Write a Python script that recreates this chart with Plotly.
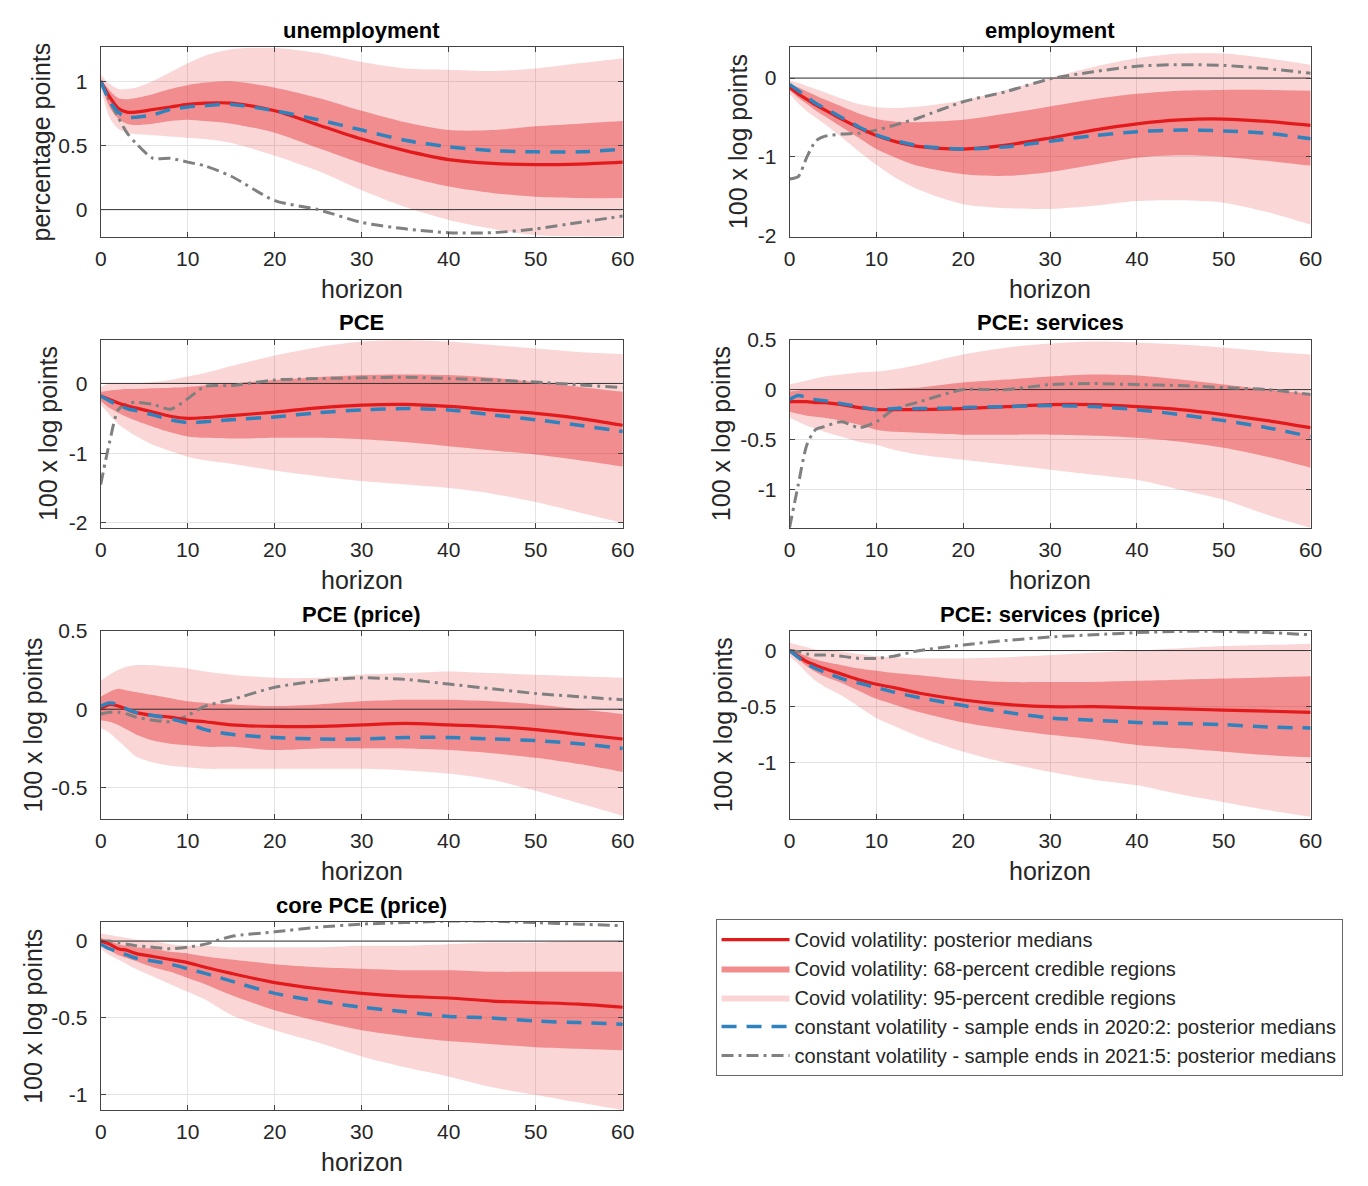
import plotly.graph_objects as go

# ---------------- data ----------------
HORIZON = [0, 1, 2, 3, 4, 6, 8, 10, 12, 15, 20, 25, 30, 35, 40, 45, 50, 55, 60]
X_TICKS = [0, 10, 20, 30, 40, 50, 60]
X_TICK_LABELS = ["0", "10", "20", "30", "40", "50", "60"]

# unemployment
UNEMP_MED = [1.0, 0.88, 0.79, 0.76, 0.76, 0.78, 0.80, 0.82, 0.83, 0.83, 0.77, 0.66, 0.55, 0.46, 0.39, 0.36, 0.35, 0.355, 0.37]
UNEMP_CONST20 = [1.0, 0.85, 0.76, 0.72, 0.72, 0.74, 0.78, 0.80, 0.81, 0.82, 0.77, 0.70, 0.62, 0.54, 0.49, 0.46, 0.45, 0.45, 0.47]
UNEMP_CONST21 = [1.0, 0.85, 0.72, 0.60, 0.52, 0.40, 0.40, 0.37, 0.34, 0.26, 0.07, 0.0, -0.10, -0.15, -0.18, -0.18, -0.15, -0.10, -0.05]
UNEMP_HI68 = [1.02, 0.93, 0.87, 0.86, 0.87, 0.90, 0.94, 0.97, 0.99, 1.0, 0.95, 0.87, 0.77, 0.68, 0.62, 0.62, 0.65, 0.67, 0.69]
UNEMP_LO68 = [0.98, 0.80, 0.71, 0.67, 0.66, 0.67, 0.69, 0.70, 0.69, 0.67, 0.60, 0.48, 0.36, 0.26, 0.18, 0.13, 0.10, 0.09, 0.09]
UNEMP_HI95 = [1.05, 0.98, 0.94, 0.94, 0.95, 1.0, 1.07, 1.14, 1.2, 1.25, 1.26, 1.22, 1.15, 1.1, 1.09, 1.08, 1.1, 1.14, 1.18]
UNEMP_LO95 = [0.95, 0.72, 0.63, 0.60, 0.59, 0.58, 0.57, 0.56, 0.55, 0.52, 0.42, 0.30, 0.15, 0.02, -0.08, -0.15, -0.2, -0.21, -0.21]

# employment
EMP_MED = [-0.12, -0.2, -0.27, -0.34, -0.4, -0.52, -0.63, -0.73, -0.8, -0.87, -0.9, -0.85, -0.76, -0.66, -0.58, -0.53, -0.52, -0.55, -0.6]
EMP_CONST20 = [-0.08, -0.16, -0.24, -0.32, -0.38, -0.5, -0.62, -0.72, -0.79, -0.86, -0.9, -0.87, -0.8, -0.73, -0.68, -0.66, -0.67, -0.70, -0.77]
EMP_CONST21 = [-1.28, -1.25, -1.0, -0.8, -0.74, -0.71, -0.70, -0.66, -0.6, -0.5, -0.3, -0.17, -0.01, 0.08, 0.15, 0.17, 0.16, 0.12, 0.06]
EMP_HI68 = [-0.08, -0.12, -0.17, -0.22, -0.27, -0.36, -0.45, -0.52, -0.55, -0.56, -0.53, -0.45, -0.36, -0.27, -0.2, -0.16, -0.15, -0.15, -0.16]
EMP_LO68 = [-0.15, -0.25, -0.33, -0.41, -0.48, -0.62, -0.76, -0.9, -1.0, -1.12, -1.22, -1.24, -1.19, -1.1, -1.01, -0.98, -1.0, -1.05, -1.11]
EMP_HI95 = [-0.03, -0.06, -0.1, -0.14, -0.18, -0.26, -0.33, -0.37, -0.38, -0.36, -0.28, -0.15, 0.0, 0.14, 0.25, 0.31, 0.31, 0.25, 0.17]
EMP_LO95 = [-0.2, -0.32, -0.42, -0.5, -0.58, -0.75, -0.93, -1.1, -1.25, -1.42, -1.6, -1.65, -1.66, -1.62, -1.56, -1.55, -1.58, -1.7, -1.86]

# PCE
PCE_MED = [-0.18, -0.23, -0.28, -0.32, -0.35, -0.41, -0.47, -0.5, -0.49, -0.46, -0.41, -0.35, -0.31, -0.3, -0.33, -0.38, -0.43, -0.5, -0.6]
PCE_CONST20 = [-0.18, -0.25, -0.31, -0.36, -0.39, -0.45, -0.52, -0.56, -0.55, -0.52, -0.48, -0.42, -0.38, -0.36, -0.38, -0.45, -0.52, -0.6, -0.69]
PCE_CONST21 = [-1.45, -0.85, -0.38, -0.29, -0.27, -0.3, -0.37, -0.22, -0.04, -0.03, 0.05, 0.07, 0.08, 0.09, 0.07, 0.05, 0.02, -0.02, -0.06]
PCE_HI68 = [-0.12, -0.1, -0.09, -0.08, -0.08, -0.07, -0.06, -0.05, -0.03, 0.0, 0.05, 0.09, 0.12, 0.13, 0.12, 0.08, 0.02, -0.05, -0.12]
PCE_LO68 = [-0.25, -0.35, -0.42, -0.48, -0.53, -0.62, -0.7, -0.76, -0.78, -0.79, -0.78, -0.78, -0.8, -0.84, -0.9, -0.96, -1.02, -1.1, -1.19]
PCE_HI95 = [-0.05, 0.0, 0.0, 0.0, 0.0, 0.02, 0.05, 0.1, 0.15, 0.25, 0.4, 0.52, 0.6, 0.62, 0.6, 0.55, 0.5, 0.45, 0.42]
PCE_LO95 = [-0.3, -0.45, -0.58, -0.67, -0.75, -0.88, -0.97, -1.05, -1.1, -1.15, -1.25, -1.33, -1.4, -1.45, -1.5, -1.58, -1.7, -1.85, -2.0]

# PCE: services
SERV_MED = [-0.12, -0.12, -0.12, -0.13, -0.13, -0.15, -0.18, -0.2, -0.2, -0.2, -0.19, -0.17, -0.15, -0.15, -0.17, -0.2, -0.25, -0.31, -0.38]
SERV_CONST20 = [-0.1, -0.06, -0.08, -0.1, -0.11, -0.14, -0.17, -0.2, -0.19, -0.19, -0.18, -0.17, -0.16, -0.17, -0.2, -0.25, -0.31, -0.38, -0.47]
SERV_CONST21 = [-1.38, -0.95, -0.55, -0.4, -0.37, -0.32, -0.38, -0.32, -0.2, -0.12, 0.0, 0.0, 0.05, 0.06, 0.05, 0.04, 0.02, 0.0, -0.05]
SERV_HI68 = [-0.02, -0.01, 0.0, 0.0, 0.0, 0.0, 0.0, 0.0, 0.01, 0.02, 0.07, 0.1, 0.13, 0.15, 0.14, 0.1, 0.05, 0.0, -0.04]
SERV_LO68 = [-0.22, -0.24, -0.26, -0.27, -0.28, -0.31, -0.35, -0.4, -0.42, -0.43, -0.45, -0.45, -0.45, -0.46, -0.48, -0.52, -0.58, -0.67, -0.78]
SERV_HI95 = [0.05, 0.07, 0.09, 0.11, 0.13, 0.15, 0.17, 0.18, 0.2, 0.25, 0.35, 0.42, 0.46, 0.48, 0.47, 0.45, 0.42, 0.38, 0.35]
SERV_LO95 = [-0.28, -0.32, -0.36, -0.39, -0.42, -0.47, -0.52, -0.55, -0.6, -0.65, -0.7, -0.75, -0.8, -0.85, -0.9, -1.0, -1.1, -1.25, -1.38]

# PCE (price)
PRICE_MED = [0.0, 0.03, 0.02, 0.0, -0.02, -0.04, -0.05, -0.07, -0.08, -0.1, -0.11, -0.11, -0.1, -0.09, -0.1, -0.11, -0.13, -0.16, -0.19]
PRICE_CONST20 = [0.02, 0.04, 0.03, 0.0, -0.02, -0.04, -0.06, -0.09, -0.13, -0.16, -0.18, -0.19, -0.19, -0.18, -0.18, -0.19, -0.2, -0.22, -0.25]
PRICE_CONST21 = [-0.03, -0.02, -0.02, -0.03, -0.05, -0.07, -0.08, -0.04, 0.02, 0.06, 0.14, 0.18, 0.2, 0.19, 0.16, 0.13, 0.1, 0.08, 0.06]
PRICE_HI68 = [0.08, 0.11, 0.13, 0.12, 0.11, 0.09, 0.07, 0.05, 0.04, 0.03, 0.02, 0.03, 0.05, 0.06, 0.06, 0.05, 0.03, 0.0, -0.03]
PRICE_LO68 = [-0.07, -0.08, -0.1, -0.13, -0.16, -0.2, -0.22, -0.23, -0.24, -0.24, -0.26, -0.25, -0.25, -0.25, -0.26, -0.28, -0.31, -0.35, -0.4]
PRICE_HI95 = [0.18, 0.22, 0.25, 0.27, 0.28, 0.28, 0.27, 0.26, 0.24, 0.22, 0.2, 0.2, 0.22, 0.23, 0.24, 0.23, 0.22, 0.21, 0.2]
PRICE_LO95 = [-0.12, -0.15, -0.2, -0.25, -0.3, -0.34, -0.36, -0.37, -0.38, -0.38, -0.38, -0.38, -0.38, -0.39, -0.41, -0.45, -0.52, -0.6, -0.68]

# PCE: services (price)
SPRICE_MED = [0.0, -0.05, -0.1, -0.13, -0.16, -0.21, -0.26, -0.3, -0.33, -0.38, -0.44, -0.48, -0.5, -0.5, -0.51, -0.52, -0.53, -0.54, -0.55]
SPRICE_CONST20 = [0.0, -0.06, -0.12, -0.16, -0.19, -0.25, -0.29, -0.33, -0.37, -0.42, -0.49, -0.55, -0.6, -0.62, -0.64, -0.65, -0.66, -0.68, -0.69]
SPRICE_CONST21 = [0.0, -0.01, -0.03, -0.04, -0.04, -0.05, -0.07, -0.07, -0.05, 0.0, 0.05, 0.09, 0.12, 0.14, 0.16, 0.17, 0.17, 0.16, 0.14]
SPRICE_HI68 = [0.02, -0.02, -0.05, -0.08, -0.1, -0.13, -0.16, -0.18, -0.2, -0.22, -0.26, -0.28, -0.28, -0.28, -0.27, -0.26, -0.25, -0.24, -0.23]
SPRICE_LO68 = [-0.02, -0.08, -0.14, -0.19, -0.23, -0.29, -0.36, -0.43, -0.48, -0.55, -0.64, -0.7, -0.75, -0.79, -0.84, -0.87, -0.9, -0.93, -0.95]
SPRICE_HI95 = [0.07, 0.05, 0.03, 0.01, 0.0, -0.01, -0.03, -0.05, -0.06, -0.07, -0.07, -0.06, -0.04, -0.02, 0.0, 0.02, 0.04, 0.05, 0.06]
SPRICE_LO95 = [-0.05, -0.12, -0.2, -0.27, -0.32, -0.4, -0.5, -0.6, -0.67, -0.77, -0.9, -1.0, -1.08, -1.15, -1.2, -1.28, -1.35, -1.42, -1.48]

# core PCE (price)
CORE_MED = [0.0, -0.02, -0.05, -0.06, -0.08, -0.1, -0.12, -0.14, -0.17, -0.21, -0.27, -0.31, -0.34, -0.36, -0.37, -0.39, -0.4, -0.41, -0.43]
CORE_CONST20 = [-0.02, -0.05, -0.07, -0.09, -0.11, -0.13, -0.15, -0.18, -0.21, -0.26, -0.34, -0.39, -0.43, -0.46, -0.49, -0.5, -0.52, -0.53, -0.54]
CORE_CONST21 = [0.0, 0.0, -0.01, -0.02, -0.03, -0.04, -0.05, -0.04, -0.02, 0.03, 0.06, 0.09, 0.11, 0.12, 0.13, 0.13, 0.12, 0.11, 0.1]
CORE_HI68 = [0.02, 0.0, -0.02, -0.03, -0.04, -0.05, -0.07, -0.08, -0.1, -0.12, -0.15, -0.17, -0.18, -0.19, -0.19, -0.2, -0.2, -0.2, -0.2]
CORE_LO68 = [-0.03, -0.06, -0.09, -0.11, -0.13, -0.17, -0.2, -0.24, -0.28, -0.35, -0.45, -0.52, -0.58, -0.62, -0.65, -0.67, -0.69, -0.7, -0.71]
CORE_HI95 = [0.05, 0.04, 0.03, 0.02, 0.01, 0.0, -0.02, -0.03, -0.03, -0.04, -0.04, -0.04, -0.03, -0.03, -0.02, -0.01, -0.01, 0.0, 0.0]
CORE_LO95 = [-0.05, -0.09, -0.12, -0.15, -0.18, -0.23, -0.28, -0.33, -0.38, -0.48, -0.58, -0.66, -0.75, -0.82, -0.88, -0.95, -1.0, -1.05, -1.1]

PANEL_TITLES = ["unemployment", "employment", "PCE", "PCE: services",
                "PCE (price)", "PCE: services (price)", "core PCE (price)"]
Y_LABELS = ["percentage points"] + ["100 x log points"] * 6
Y_RANGES = [[-0.21, 1.265], [-2.01, 0.39], [-2.07, 0.63], [-1.38, 0.5],
            [-0.7, 0.5], [-1.5, 0.176], [-1.1, 0.124]]
Y_TICKS = [[0, 0.5, 1], [-2, -1, 0], [-2, -1, 0], [-1, -0.5, 0, 0.5],
           [-0.5, 0, 0.5], [-1, -0.5, 0], [-1, -0.5, 0]]
Y_TICK_LABELS = [["0", "0.5", "1"], ["-2", "-1", "0"], ["-2", "-1", "0"],
                 ["-1", "-0.5", "0", "0.5"], ["-0.5", "0", "0.5"],
                 ["-1", "-0.5", "0"], ["-1", "-0.5", "0"]]

LEGEND_LABELS = ["Covid volatility: posterior medians",
                 "Covid volatility: 68-percent credible regions",
                 "Covid volatility: 95-percent credible regions",
                 "constant volatility - sample ends in 2020:2: posterior medians",
                 "constant volatility - sample ends in 2021:5: posterior medians"]

PANEL_DATA = [
    (UNEMP_MED, UNEMP_CONST20, UNEMP_CONST21, UNEMP_HI68, UNEMP_LO68, UNEMP_HI95, UNEMP_LO95),
    (EMP_MED, EMP_CONST20, EMP_CONST21, EMP_HI68, EMP_LO68, EMP_HI95, EMP_LO95),
    (PCE_MED, PCE_CONST20, PCE_CONST21, PCE_HI68, PCE_LO68, PCE_HI95, PCE_LO95),
    (SERV_MED, SERV_CONST20, SERV_CONST21, SERV_HI68, SERV_LO68, SERV_HI95, SERV_LO95),
    (PRICE_MED, PRICE_CONST20, PRICE_CONST21, PRICE_HI68, PRICE_LO68, PRICE_HI95, PRICE_LO95),
    (SPRICE_MED, SPRICE_CONST20, SPRICE_CONST21, SPRICE_HI68, SPRICE_LO68, SPRICE_HI95, SPRICE_LO95),
    (CORE_MED, CORE_CONST20, CORE_CONST21, CORE_HI68, CORE_LO68, CORE_HI95, CORE_LO95),
]

# ---------------- styling / layout ----------------
W, H = 1368, 1186
FONT = "Liberation Sans, Arial, sans-serif"
RED = "rgb(226,26,28)"
BAND68 = "rgba(226,26,28,0.39)"
BAND95 = "rgba(226,26,28,0.18)"
BAND68_SOLID = "rgb(241,141,141)"
BAND95_SOLID = "rgb(250,213,213)"
BLUE = "rgb(46,130,190)"
GRAY = "rgb(128,128,128)"
TXT = "#262626"

COL_PX = [(96, 625), (794, 1322)]
ROW_PX = [(36, 229), (334, 526), (631, 823), (928, 1120)]
YLABEL_X_PX = [35, 742, 42, 724, 27, 726, 27]

fig = go.Figure()
layout = dict(autosize=True, margin=dict(l=0, r=0, t=0, b=0, pad=0),
              paper_bgcolor="white", plot_bgcolor="white",
              font=dict(family=FONT, color=TXT), annotations=[])

for i, (title, data) in enumerate(zip(PANEL_TITLES, PANEL_DATA)):
    med, c20, c21, hi68, lo68, hi95, lo95 = data
    row, col = divmod(i, 2)
    n = "" if i == 0 else str(i + 1)
    xa, ya = "x" + n, "y" + n
    x0, x1 = COL_PX[col]
    top, bot = ROW_PX[row]

    common = dict(x=HORIZON, xaxis=xa, yaxis=ya, showlegend=False, hoverinfo="skip")
    fig.add_trace(go.Scatter(y=lo95, mode="lines", line=dict(width=0, shape="spline", smoothing=0.8), **common))
    fig.add_trace(go.Scatter(y=hi95, mode="lines", fill="tonexty", fillcolor=BAND95,
                             line=dict(width=0, shape="spline", smoothing=0.8), **common))
    fig.add_trace(go.Scatter(y=lo68, mode="lines", line=dict(width=0, shape="spline", smoothing=0.8), **common))
    fig.add_trace(go.Scatter(y=hi68, mode="lines", fill="tonexty", fillcolor=BAND68,
                             line=dict(width=0, shape="spline", smoothing=0.8), **common))
    # zero reference line across horizons
    fig.add_trace(go.Scatter(x=[HORIZON[0], HORIZON[-1]], y=[0, 0], mode="lines",
                             line=dict(color="#333333", width=1), xaxis=xa, yaxis=ya,
                             showlegend=False, hoverinfo="skip"))
    fig.add_trace(go.Scatter(y=c21, mode="lines",
                             line=dict(color=GRAY, width=3, dash="12px,5px,3px,5px", shape="spline", smoothing=0.7),
                             **common))
    fig.add_trace(go.Scatter(y=med, mode="lines",
                             line=dict(color=RED, width=3.2, shape="spline", smoothing=0.8), **common))
    fig.add_trace(go.Scatter(y=c20, mode="lines",
                             line=dict(color=BLUE, width=3.5, dash="15px,10px", shape="spline", smoothing=0.8),
                             **common))

    axis_common = dict(showline=True, mirror="ticks", linecolor="#444444", linewidth=1,
                       ticks="inside", ticklen=5, tickcolor="#444444",
                       showgrid=True, gridcolor="#e3e3e3", gridwidth=1, zeroline=False,
                       tickfont=dict(size=21, color=TXT, family=FONT), fixedrange=True)
    layout["xaxis" + n] = dict(domain=[x0 / W, x1 / W], anchor=ya, range=[0, 60],
                               tickvals=X_TICKS, ticktext=X_TICK_LABELS, ticklabelstandoff=3,
                               **axis_common)
    layout["yaxis" + n] = dict(domain=[1 - bot / H, 1 - top / H], anchor=xa, range=Y_RANGES[i],
                               tickvals=Y_TICKS[i], ticktext=Y_TICK_LABELS[i], ticklabelstandoff=8,
                               **axis_common)

    cx = (x0 + x1) / 2 / W
    layout["annotations"].append(dict(text="<b>" + title + "</b>", x=cx, y=1 - (top - 17) / H,
                                      xref="paper", yref="paper", showarrow=False,
                                      xanchor="center", yanchor="middle",
                                      font=dict(size=22, color="black", family=FONT)))
    layout["annotations"].append(dict(text="horizon", x=cx, y=1 - (bot + 53) / H,
                                      xref="paper", yref="paper", showarrow=False,
                                      xanchor="center", yanchor="middle",
                                      font=dict(size=25, color=TXT, family=FONT)))
    layout["annotations"].append(dict(text=Y_LABELS[i], x=YLABEL_X_PX[i] / W, y=1 - (top + bot) / 2 / H,
                                      xref="paper", yref="paper", showarrow=False, textangle=-90,
                                      xanchor="center", yanchor="middle",
                                      font=dict(size=25, color=TXT, family=FONT)))

# legend entries
leg = dict(x=[None], y=[None], xaxis="x", yaxis="y", showlegend=True, hoverinfo="skip")
fig.add_trace(go.Scatter(mode="lines", name=LEGEND_LABELS[0], line=dict(color=RED, width=3.2), legendrank=1, **leg))
fig.add_trace(go.Scatter(mode="lines", name=LEGEND_LABELS[1], fill="toself", fillcolor=BAND68_SOLID,
                         line=dict(width=0, color=BAND68_SOLID), legendrank=2, **leg))
fig.add_trace(go.Scatter(mode="lines", name=LEGEND_LABELS[2], fill="toself", fillcolor=BAND95_SOLID,
                         line=dict(width=0, color=BAND95_SOLID), legendrank=3, **leg))
fig.add_trace(go.Scatter(mode="lines", name=LEGEND_LABELS[3], line=dict(color=BLUE, width=3.5, dash="15px,10px"),
                         legendrank=4, **leg))
fig.add_trace(go.Scatter(mode="lines", name=LEGEND_LABELS[4], line=dict(color=GRAY, width=3, dash="12px,5px,3px,5px"),
                         legendrank=5, **leg))

layout["legend"] = dict(x=719 / W, y=1 - 925 / H, xanchor="left", yanchor="top",
                        bgcolor="white", bordercolor="#666666", borderwidth=1,
                        font=dict(size=20, color=TXT, family=FONT), itemwidth=68,
                        traceorder="normal", tracegroupgap=0)

fig.update_layout(**layout)

POST = (
    "var gd=document.getElementById('{plot_id}');"
    "var de=document.documentElement;"
    "de.style.margin='0';de.style.padding='0';de.style.overflow='hidden';"
    "document.body.style.margin='0';document.body.style.padding='0';document.body.style.overflow='hidden';"
    "gd.style.width='100vw';gd.style.height='100vh';"
    "Plotly.Plots.resize(gd);"
)
fig.write_html("out.html", default_width="100vw", default_height="100vh",
               config={"displayModeBar": False, "responsive": True}, post_script=POST)
